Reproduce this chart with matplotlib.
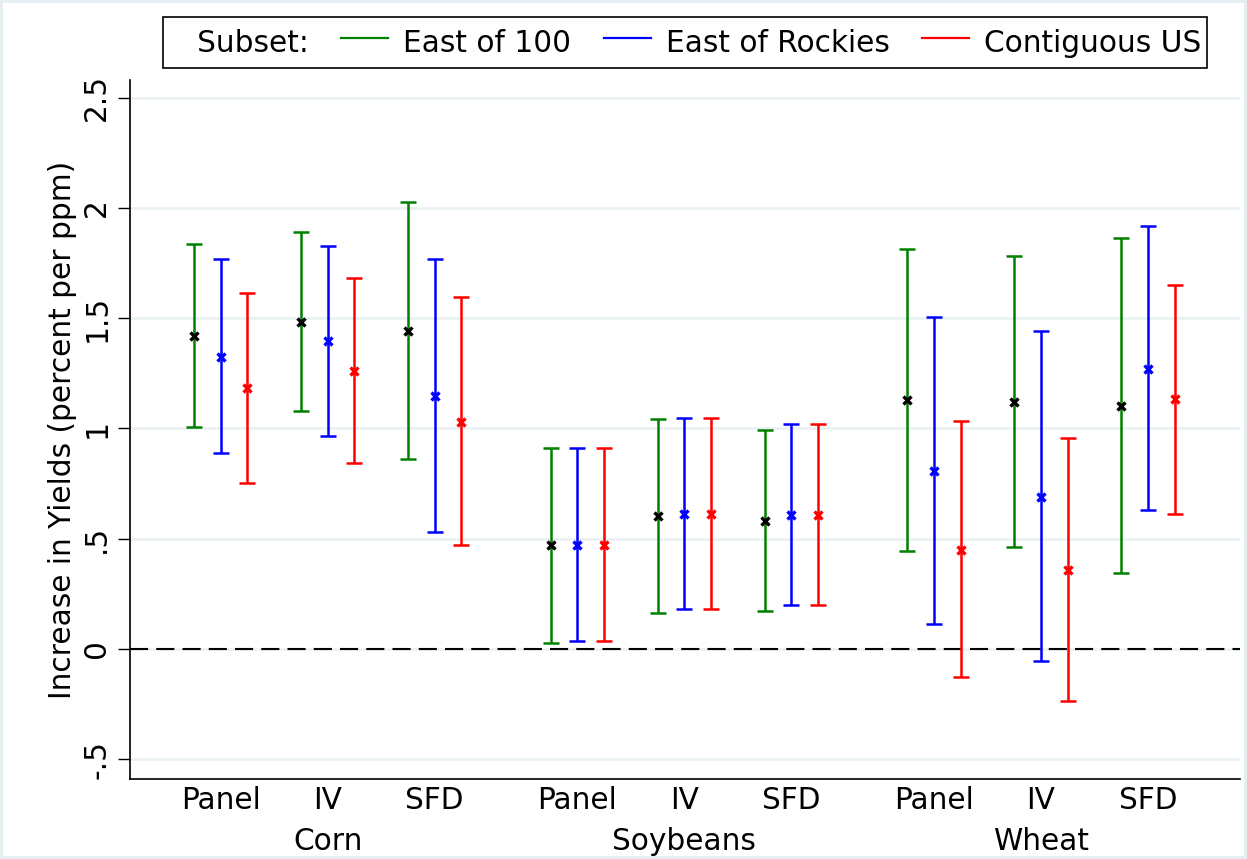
import matplotlib
matplotlib.use('Agg')
import matplotlib.pyplot as plt
from matplotlib.lines import Line2D
import numpy as np

# ---- data ----
crops = ['Corn', 'Soybeans', 'Wheat']
methods = ['Panel', 'IV', 'SFD']
subsets = ['East of 100', 'East of Rockies', 'Contiguous US']

# order: Corn Panel, IV, SFD, Soybeans Panel, IV, SFD, Wheat Panel, IV, SFD
east100_est = [1.421, 1.483, 1.442, 0.469, 0.603, 0.582, 1.128, 1.120, 1.101]
east100_lo = [1.008, 1.079, 0.862, 0.026, 0.165, 0.174, 0.446, 0.460, 0.345]
east100_hi = [1.835, 1.890, 2.026, 0.912, 1.043, 0.992, 1.813, 1.784, 1.865]

rockies_est = [1.326, 1.395, 1.149, 0.473, 0.612, 0.608, 0.807, 0.691, 1.270]
rockies_lo = [0.888, 0.964, 0.532, 0.036, 0.180, 0.200, 0.113, -0.056, 0.630]
rockies_hi = [1.767, 1.829, 1.770, 0.912, 1.046, 1.019, 1.504, 1.441, 1.918]

us_est = [1.182, 1.259, 1.029, 0.473, 0.612, 0.608, 0.450, 0.357, 1.132]
us_lo = [0.751, 0.842, 0.470, 0.036, 0.180, 0.200, -0.128, -0.237, 0.612]
us_hi = [1.615, 1.681, 1.595, 0.912, 1.046, 1.019, 1.033, 0.955, 1.652]

ytick_values = [-0.5, 0, 0.5, 1, 1.5, 2, 2.5]
ytick_labels = ['-.5', '0', '.5', '1', '1.5', '2', '2.5']

ylabel = 'Increase in Yields (percent per ppm)'

# ---- styling ----
FS = 21.3
line_colors = ['#008000', '#0000ff', '#ff0000']
marker_colors = ['black', '#0000ff', '#ff0000']
grid_color = '#e9f0f2'

fig = plt.figure(figsize=(12.47, 8.59), dpi=100)
ax = fig.add_axes([130 / 1247, 1 - 779 / 859, (1240 - 130) / 1247, (779 - 80) / 859])

# category positions: groups separated by an extra third of a slot
n_m = len(methods)
group_step = n_m + 1 / 3
centers = np.array([g * group_step + m for g in range(len(crops)) for m in range(n_m)])
group_centers = np.array([g * group_step + (n_m - 1) / 2 for g in range(len(crops))])
offsets = [-0.25, 0.0, 0.25]

series = [
    (east100_est, east100_lo, east100_hi),
    (rockies_est, rockies_lo, rockies_hi),
    (us_est, us_lo, us_hi),
]

for i, (est, lo, hi) in enumerate(series):
    est = np.array(est)
    lo = np.array(lo)
    hi = np.array(hi)
    x = centers + offsets[i]
    ax.errorbar(x, est, yerr=[est - lo, hi - est], fmt='none',
                ecolor=line_colors[i], elinewidth=1.8, capsize=5.5,
                capthick=1.8, zorder=3)
    ax.plot(x, est, linestyle='none', marker='x', color=marker_colors[i],
            markersize=5.5, markeredgewidth=2.4, zorder=4)

ax.axhline(0, color='black', lw=1.5, dashes=(8.7, 3.9), zorder=2)

ax.set_xlim(-0.848, 9.526)
ax.set_ylim(-0.59, 2.58)

ax.set_yticks(ytick_values)
ax.set_yticklabels(ytick_labels)
for lab in ax.get_yticklabels():
    lab.set_rotation(90)
    lab.set_va('center')
ax.tick_params(axis='y', length=8.5, width=1.0, pad=5, labelsize=FS)

ax.set_xticks(centers)
ax.set_xticklabels(methods * len(crops))
ax.tick_params(axis='x', length=0, pad=4.8, labelsize=FS)

sec = ax.secondary_xaxis('bottom')
sec.set_xticks(group_centers)
sec.set_xticklabels(crops)
sec.tick_params(axis='x', length=0, pad=34.5, labelsize=FS)
sec.spines['bottom'].set_visible(False)

ax.set_ylabel(ylabel, fontsize=FS, labelpad=4)

ax.yaxis.grid(True, color=grid_color, lw=1.8)
ax.set_axisbelow(True)
for s in ['top', 'right']:
    ax.spines[s].set_visible(False)
for s in ['left', 'bottom']:
    ax.spines[s].set_linewidth(1.2)

handles = [Line2D([], [], color=c, lw=1.6) for c in line_colors]
leg = ax.legend(handles, subsets, loc='lower center', bbox_to_anchor=(0.5, 1.0),
                ncol=3, title='   Subset:', title_fontsize=FS, fontsize=FS,
                frameon=True, fancybox=False, edgecolor='black', framealpha=1,
                handlelength=1.6, handleheight=1.65, handletextpad=0.5,
                columnspacing=1.1, borderpad=0.2, borderaxespad=0.40)
leg.get_frame().set_linewidth(1.2)
# put the title to the left of the entries, on the same row
vp = leg._legend_box
title_box = leg._legend_title_box
hp = leg._legend_handle_box
vp._children = [hp]
hp._children = [title_box] + list(hp._children)

fig.patch.set_edgecolor('#e6eef1')
fig.patch.set_linewidth(3)
fig.savefig('out.png', dpi=100, facecolor='white', edgecolor=fig.patch.get_edgecolor())
